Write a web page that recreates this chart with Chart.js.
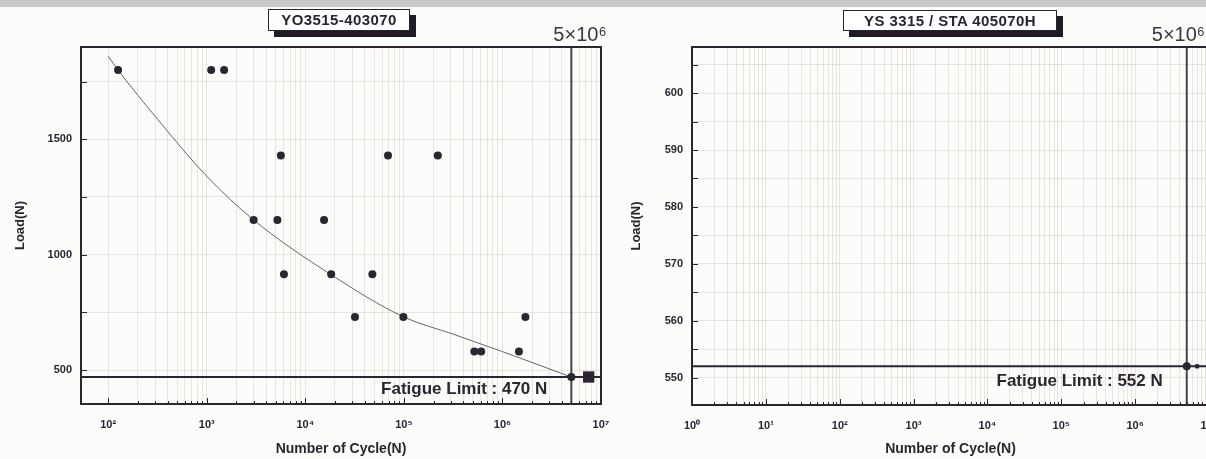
<!DOCTYPE html>
<html>
<head>
<meta charset="utf-8">
<script src="https://cdn.jsdelivr.net/npm/chart.js@4.4.0/dist/chart.umd.min.js"></script>
<style>
  body { margin: 0; width: 1206px; height: 459px; overflow: hidden; background: #fcfcfa; position: relative; font-family: "Liberation Sans", Arial, sans-serif; }
  #band { position: absolute; left: 0; top: 0; width: 1206px; height: 7px; background: #c9c9c9; }
  .panel { position: absolute; top: 0; }
  .tag { position: absolute; background: #fff; border: 1px solid #2a2430; box-shadow: 6px 6px 0 #1f1a24; color: #2a2430;
         font: bold 15px "Liberation Sans", Arial, sans-serif; letter-spacing: 0.4px; text-align: center; line-height: 19px; }
</style>
</head>
<body>
<div id="band"></div>
<canvas id="left" class="panel" width="620" height="459" style="left:0"></canvas>
<canvas id="right" class="panel" width="620" height="459" style="left:620px"></canvas>
<div class="tag" style="left:268px;top:9px;width:140px;height:20px">YO3515-403070</div>
<div class="tag" style="left:843px;top:10px;width:212px;height:19px">YS 3315 / STA 405070H</div>
<script>
// YO3515-403070 : test points (cycles, load)
var leftCycles = [126, 1110, 1500, 5650, 69000, 221000, 2990, 5210, 15500, 6070, 18300, 47900, 31900, 98900, 1710000, 519000, 609000, 1470000, 5000000];
var leftLoads = [1800, 1800, 1800, 1430, 1430, 1430, 1150, 1150, 1150, 915, 915, 915, 730, 730, 730, 580, 580, 580, 470];
// fitted S-N curve
var leftCurveCycles = [100, 126, 320, 1000, 3000, 18000, 100000, 320000, 1000000, 5000000];
var leftCurveLoads = [1860, 1800, 1585, 1340, 1150, 915, 730, 655, 580, 470];
var leftRunout = [7500000];
var leftLimit = 470;

// YS 3315 / STA 405070H
var rightCycles = [5000000];
var rightLoads = [552];
var rightRunout = [6900000];
var rightLimit = 552;

var enduranceCycles = 5000000;
var leftDecades = [2, 3, 4, 5, 6, 7];
var rightDecades = [0, 1, 2, 3, 4, 5, 6, 7];
var leftYLabels = [500, 1000, 1500];
var rightYLabels = [550, 560, 570, 580, 590, 600];

var sup = ['\u2070', '\u00b9', '\u00b2', '\u00b3', '\u2074', '\u2075', '\u2076', '\u2077'];
var ink = '#2b2531';
var gridCol = 'rgba(190,172,165,0.3)';

function pts(xs, ys) {
  return xs.map(function (x, i) { return { x: x, y: ys[i] }; });
}

// frame, inward tick marks and the annotation texts
var panelDeco = {
  id: 'panelDeco',
  afterDatasetsDraw: function (chart, args, o) {
    var c = chart.ctx, a = chart.chartArea, xs = chart.scales.x, ys = chart.scales.y;
    c.save();
    c.strokeStyle = ink;
    c.lineWidth = 1;
    xs.ticks.forEach(function (t) {
      var px = Math.round(xs.getPixelForValue(t.value)) + 0.5;
      var major = Math.abs(Math.log10(t.value) - Math.round(Math.log10(t.value))) < 1e-9;
      c.beginPath(); c.moveTo(px, a.bottom); c.lineTo(px, a.bottom - (major ? 6 : 3)); c.stroke();
    });
    ys.ticks.forEach(function (t) {
      var py = Math.round(ys.getPixelForValue(t.value)) + 0.5;
      c.beginPath(); c.moveTo(a.left, py); c.lineTo(a.left + 6, py); c.stroke();
    });
    c.lineWidth = 2;
    c.strokeRect(a.left, a.top, a.right - a.left, a.bottom - a.top);

    var vx = xs.getPixelForValue(o.limitCycles), ly = ys.getPixelForValue(o.limit);
    c.fillStyle = ink;
    c.font = 'bold 17px "Liberation Sans", Arial, sans-serif';
    c.textAlign = 'right';
    c.textBaseline = 'middle';
    c.fillText('Fatigue Limit : ' + o.limit + ' N', vx - 24, ly + o.labelDy);
    c.font = '20px "Liberation Sans", Arial, sans-serif';
    c.fillStyle = '#3a3540';
    c.textAlign = 'left';
    c.fillText('5\u00d710\u2076', vx + o.capDx, 35);
    c.restore();
  }
};

function buildPanel(id, cfg) {
  var ctx = document.getElementById(id).getContext('2d');
  return new Chart(ctx, {
    type: 'scatter',
    data: {
      datasets: [
        { data: pts(cfg.cycles, cfg.loads), pointRadius: 4, backgroundColor: ink, borderWidth: 0 },
        { data: cfg.runout.map(function (x) { return { x: x, y: cfg.limit }; }), pointStyle: 'rect', pointRadius: cfg.runR, backgroundColor: ink, borderWidth: 0 },
        { data: cfg.curveX ? pts(cfg.curveX, cfg.curveY) : [], showLine: true, pointRadius: 0, borderColor: '#6e6266', borderWidth: 1, cubicInterpolationMode: 'monotone' },
        { data: [{ x: cfg.xMin, y: cfg.limit }, { x: cfg.xMax, y: cfg.limit }], showLine: true, pointRadius: 0, borderColor: ink, borderWidth: 2 },
        { data: [{ x: enduranceCycles, y: cfg.yMin }, { x: enduranceCycles, y: cfg.yMax }], showLine: true, pointRadius: 0, borderColor: '#4a4250', borderWidth: 2 }
      ]
    },
    options: {
      responsive: false,
      animation: false,
      layout: { padding: { top: 47, right: cfg.padRight, left: 0, bottom: 0 } },
      plugins: {
        legend: { display: false },
        tooltip: { enabled: false },
        panelDeco: { limit: cfg.limit, limitCycles: enduranceCycles, labelDy: cfg.labelDy, capDx: cfg.capDx }
      },
      scales: {
        x: {
          type: 'logarithmic', min: cfg.xMin, max: cfg.xMax,
          afterBuildTicks: function (s) {
            var t = [];
            cfg.decades.forEach(function (e) {
              for (var k = 1; k <= 9; k++) {
                var v = k * Math.pow(10, e);
                if (v >= cfg.xMin && v <= cfg.xMax) t.push({ value: v });
              }
            });
            s.ticks = t;
          },
          afterFit: function (s) { s.height = cfg.xHeight; s.paddingLeft = 0; s.paddingRight = 0; },
          ticks: {
            autoSkip: false, maxRotation: 0, padding: 14, color: ink,
            font: { family: '"Liberation Sans", Arial, sans-serif', size: 11, weight: 'bold' },
            callback: function (v) {
              var e = Math.round(Math.log10(v));
              return Math.abs(Math.log10(v) - e) < 1e-9 ? '10' + sup[e] : '';
            }
          },
          grid: { color: gridCol, drawTicks: false },
          border: { display: false },
          title: { display: true, text: 'Number of Cycle(N)', color: ink, padding: { bottom: 1 },
                   font: { family: '"Liberation Sans", Arial, sans-serif', size: 14, weight: 'bold' } }
        },
        y: {
          min: cfg.yMin, max: cfg.yMax,
          afterBuildTicks: function (s) {
            var t = [];
            for (var v = cfg.yFirst; v <= cfg.yMax; v += cfg.yStep) t.push({ value: v });
            s.ticks = t;
          },
          afterFit: function (s) { s.width = cfg.yWidth; s.paddingTop = 0; s.paddingBottom = 0; },
          ticks: {
            autoSkip: false, padding: 9, color: ink,
            font: { family: '"Liberation Sans", Arial, sans-serif', size: cfg.yFont, weight: 'bold' },
            callback: function (v) { return cfg.yLabels.indexOf(v) >= 0 ? String(v) : ''; }
          },
          grid: { color: gridCol, drawTicks: false },
          border: { display: false },
          title: { display: true, text: 'Load(N)', color: ink, padding: { top: cfg.yTitlePad },
                   font: { family: '"Liberation Sans", Arial, sans-serif', size: 13, weight: 'bold' } }
        }
      }
    },
    plugins: [panelDeco]
  });
}

buildPanel('left', {
  cycles: leftCycles, loads: leftLoads, runout: leftRunout, runR: 8, limit: leftLimit,
  curveX: leftCurveCycles, curveY: leftCurveLoads,
  xMin: 53, xMax: 1e7, decades: leftDecades, yMin: 353, yMax: 1900, yFirst: 500, yStep: 250,
  yLabels: leftYLabels, yFont: 11, yWidth: 81, xHeight: 55, padRight: 19, yTitlePad: 13,
  labelDy: 12, capDx: -18
});
buildPanel('right', {
  cycles: rightCycles, loads: rightLoads, runout: rightRunout, runR: 3, limit: rightLimit,
  xMin: 1, xMax: 1e7, decades: rightDecades, yMin: 545.2, yMax: 608.1, yFirst: 550, yStep: 5,
  yLabels: rightYLabels, yFont: 11, yWidth: 72, xHeight: 54, padRight: 31, yTitlePad: 9,
  labelDy: 15, capDx: -35
});
</script>
</body>
</html>
